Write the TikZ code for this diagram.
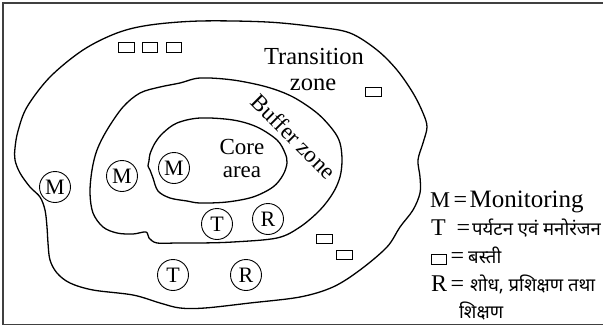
\documentclass[tikz,border=0pt]{standalone}
\usepackage{fontspec}
\setmainfont{Liberation Serif}
\newfontfamily\deva[Script=Devanagari]{Noto Sans}
\begin{document}
\begin{tikzpicture}[x=1pt,y=-1pt,
  zone/.style={line width=1.3pt, line join=round},
  house/.style={draw, line width=1.2pt, minimum width=15.5pt, minimum height=9.5pt, inner sep=0pt},
  site/.style={draw, circle, line width=0.9pt, minimum size=31pt, inner sep=0pt, font=\fontsize{22}{22}\selectfont},
  lab/.style={font=\fontsize{23}{27}\selectfont, inner sep=0pt, anchor=base},
  biglab/.style={font=\fontsize{24.5}{27}\selectfont, inner sep=0pt, anchor=base},
  leg/.style={font=\fontsize{24}{27}\selectfont, inner sep=0pt, anchor=base west},
  dleg/.style={font=\deva\fontsize{18.5}{20}\selectfont, inner sep=0pt, anchor=base west}]
\useasboundingbox (0,0) rectangle (603,327);
% frame (right side cut off)
\draw[line width=1.5pt, black!75] (610,3) -- (3,3) -- (3,324.5) -- (610,324.5);
% transition zone
\draw[zone] plot[smooth cycle, tension=0.55] coordinates {
 (200,21) (267,22) (317,27) (350,33) (377,50) (397,70) (413,93) (423,113) (427,127)
 (423,143) (418,160) (420,177) (420,193) (413,210) (400,227) (387,247) (360,270)
 (333,287) (300,297) (250,303) (205,308) (180,308) (160,303) (133,295) (93,290)
 (70,283) (57,273) (50,260) (48,243) (47,227) (45,210) (40,197) (30,187) (20,173)
 (15,160) (15,148) (18,131) (27,107) (50,77) (83,50) (117,33) (150,25)};
% buffer zone
\draw[zone] plot[smooth cycle, tension=0.55] coordinates {
 (200,78) (233,80) (267,87) (293,97) (317,113) (333,130) (340,143) (342,160)
 (340,177) (333,193) (320,210) (300,227) (277,238) (233,242) (200,243) (177,243)
 (157,243) (149,238) (146,232) (133,234) (117,233) (103,227) (93,213) (90,193)
 (92,170) (97,150) (107,130) (123,107) (140,93) (160,87) (180,83)};
% core area
\draw[zone] plot[smooth cycle, tension=0.55] coordinates {
 (200,118) (233,120) (257,127) (277,140) (285,153) (287,163) (283,175) (273,187)
 (253,197) (227,202) (200,203) (187,201) (170,198) (158,191) (153,178) (150,170)
 (148,166) (149,161) (150,154) (155,143) (163,133) (177,123)};
% houses
\node[house] (h1) at (126.5,47.5) {};
\node[house] (h2) at (150,47.5) {};
\node[house] (h3) at (174,47.5) {};
\node[house] (h4) at (373.5,92) {};
\node[house] (h5) at (324.5,239) {};
\node[house] (h6) at (344.5,255) {};
% sites
\node[site] (m1) at (55,187) {M};
\node[site] (m2) at (122,176) {M};
\node[site] (m3) at (174,168) {M};
\node[site] (t1) at (217,224) {T};
\node[site] (r1) at (268,219) {R};
\node[site] (t2) at (173,275) {T};
\node[site] (r2) at (246,275) {R};
% zone labels
\node[biglab] (tr1) at (314,64) {Transition};
\node[biglab] (tr2) at (313,90) {zone};
\node[lab] (co1) at (242,154) {Core};
\node[lab] (co2) at (242,177) {area};
\node[lab, rotate=-45] (bz) at (288,142) {Buffer zone};
% legend
\node[leg, font=\fontsize{22.5}{27}\selectfont] (lm) at (430,207) {M};
\node[leg] (lme) at (453.5,207) {=};
\node[leg, font=\fontsize{25}{27}\selectfont] (lmt) at (469.5,207) {Monitoring};
\node[leg] (lt) at (431,235) {T};
\node[leg] (lte) at (456.5,235) {=};
\node[dleg] (ltt) at (472,235) {पर्यटन एवं मनोरंजन};
\node[house] (lh) at (439,259.5) {};
\node[leg] (lhe) at (450.5,263) {=};
\node[dleg] (lht) at (468,263) {बस्ती};
\node[leg] (lr) at (431,291) {R};
\node[leg] (lre) at (450.5,291) {=};
\node[dleg] (lrt) at (470,291) {शोध, प्रशिक्षण तथा};
\node[dleg] (lrt2) at (459,318) {शिक्षण};
\end{tikzpicture}
\end{document}
